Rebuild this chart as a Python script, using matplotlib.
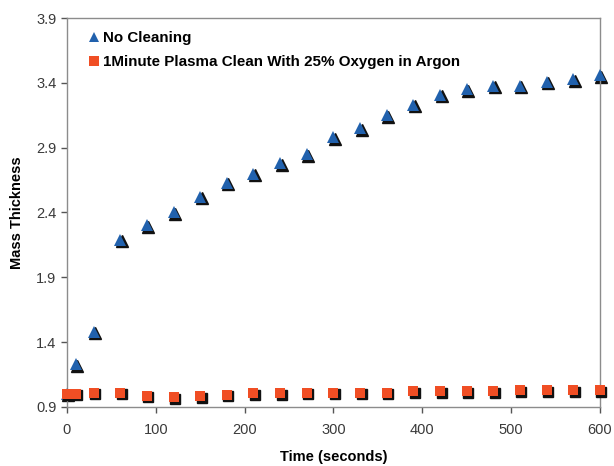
import matplotlib
matplotlib.use("Agg")
import matplotlib.pyplot as plt
import matplotlib.transforms as mtransforms

time_s = [0, 10, 30, 60, 90, 120, 150, 180, 210, 240, 270, 300, 330, 360,
          390, 420, 450, 480, 510, 540, 570, 600]
no_cleaning = [1.00, 1.23, 1.48, 2.19, 2.30, 2.40, 2.52, 2.63, 2.70, 2.78,
               2.85, 2.98, 3.05, 3.15, 3.23, 3.31, 3.35, 3.38, 3.38, 3.41,
               3.43, 3.46]
plasma_clean = [1.00, 1.00, 1.01, 1.01, 0.985, 0.975, 0.98, 0.995, 1.005, 1.005,
                1.01, 1.01, 1.01, 1.01, 1.02, 1.02, 1.02, 1.02, 1.03, 1.03,
                1.03, 1.03]
label_a = "No Cleaning"
label_b = "1Minute Plasma Clean With 25% Oxygen in Argon"
y_ticks = [0.9, 1.4, 1.9, 2.4, 2.9, 3.4, 3.9]
x_ticks = [0, 100, 200, 300, 400, 500, 600]

plt.rcParams['font.family'] = ['Liberation Sans', 'DejaVu Sans']

fig = plt.figure(figsize=(6.14, 4.66), dpi=100)
ax = fig.add_axes([0.109, 0.127, 0.868, 0.834])

blue = '#2161ad'
red = '#f04e24'
shadow = mtransforms.offset_copy(ax.transData, fig=fig, x=1.1, y=-1.1, units='points')

ax.plot(time_s, no_cleaning, linestyle='none', marker='^', markersize=8.5,
        color='#111111', transform=shadow, zorder=2, clip_on=False)
ax.plot(time_s, no_cleaning, linestyle='none', marker='^', markersize=8.5,
        color=blue, markeredgewidth=0, zorder=3, label=label_a, clip_on=False)
ax.plot(time_s, plasma_clean, linestyle='none', marker='s', markersize=7,
        color='#111111', transform=shadow, zorder=4, clip_on=False)
ax.plot(time_s, plasma_clean, linestyle='none', marker='s', markersize=7,
        color=red, markeredgewidth=0, zorder=5, label=label_b, clip_on=False)

ax.set_xlim(0, 600)
ax.set_ylim(0.9, 3.9)
ax.set_xticks(x_ticks)
ax.set_yticks(y_ticks)
ax.set_yticklabels([f"{v:.1f}" for v in y_ticks])

for s in ax.spines.values():
    s.set_color('#8c8c8c')
    s.set_linewidth(1.0)
ax.tick_params(direction='out', length=4, width=1, color='#555555',
               labelsize=10.5, labelcolor='#3a3a3a')
ax.tick_params(axis='x', pad=8)

ax.set_xlabel("Time (seconds)", fontsize=10.5, fontweight='bold', labelpad=9)
ax.set_ylabel("Mass Thickness", fontsize=10.5, fontweight='bold', labelpad=9)

leg = ax.legend(loc='upper left', bbox_to_anchor=(0.017, 0.99), frameon=False,
                handletextpad=0.0, handlelength=1.2, borderaxespad=0.3,
                labelspacing=0.65, borderpad=0.3,
                prop={'weight': 'bold', 'size': 10.9})
for h in leg.legend_handles:
    h.set_markersize(7)

fig.savefig("out.png", dpi=100)
